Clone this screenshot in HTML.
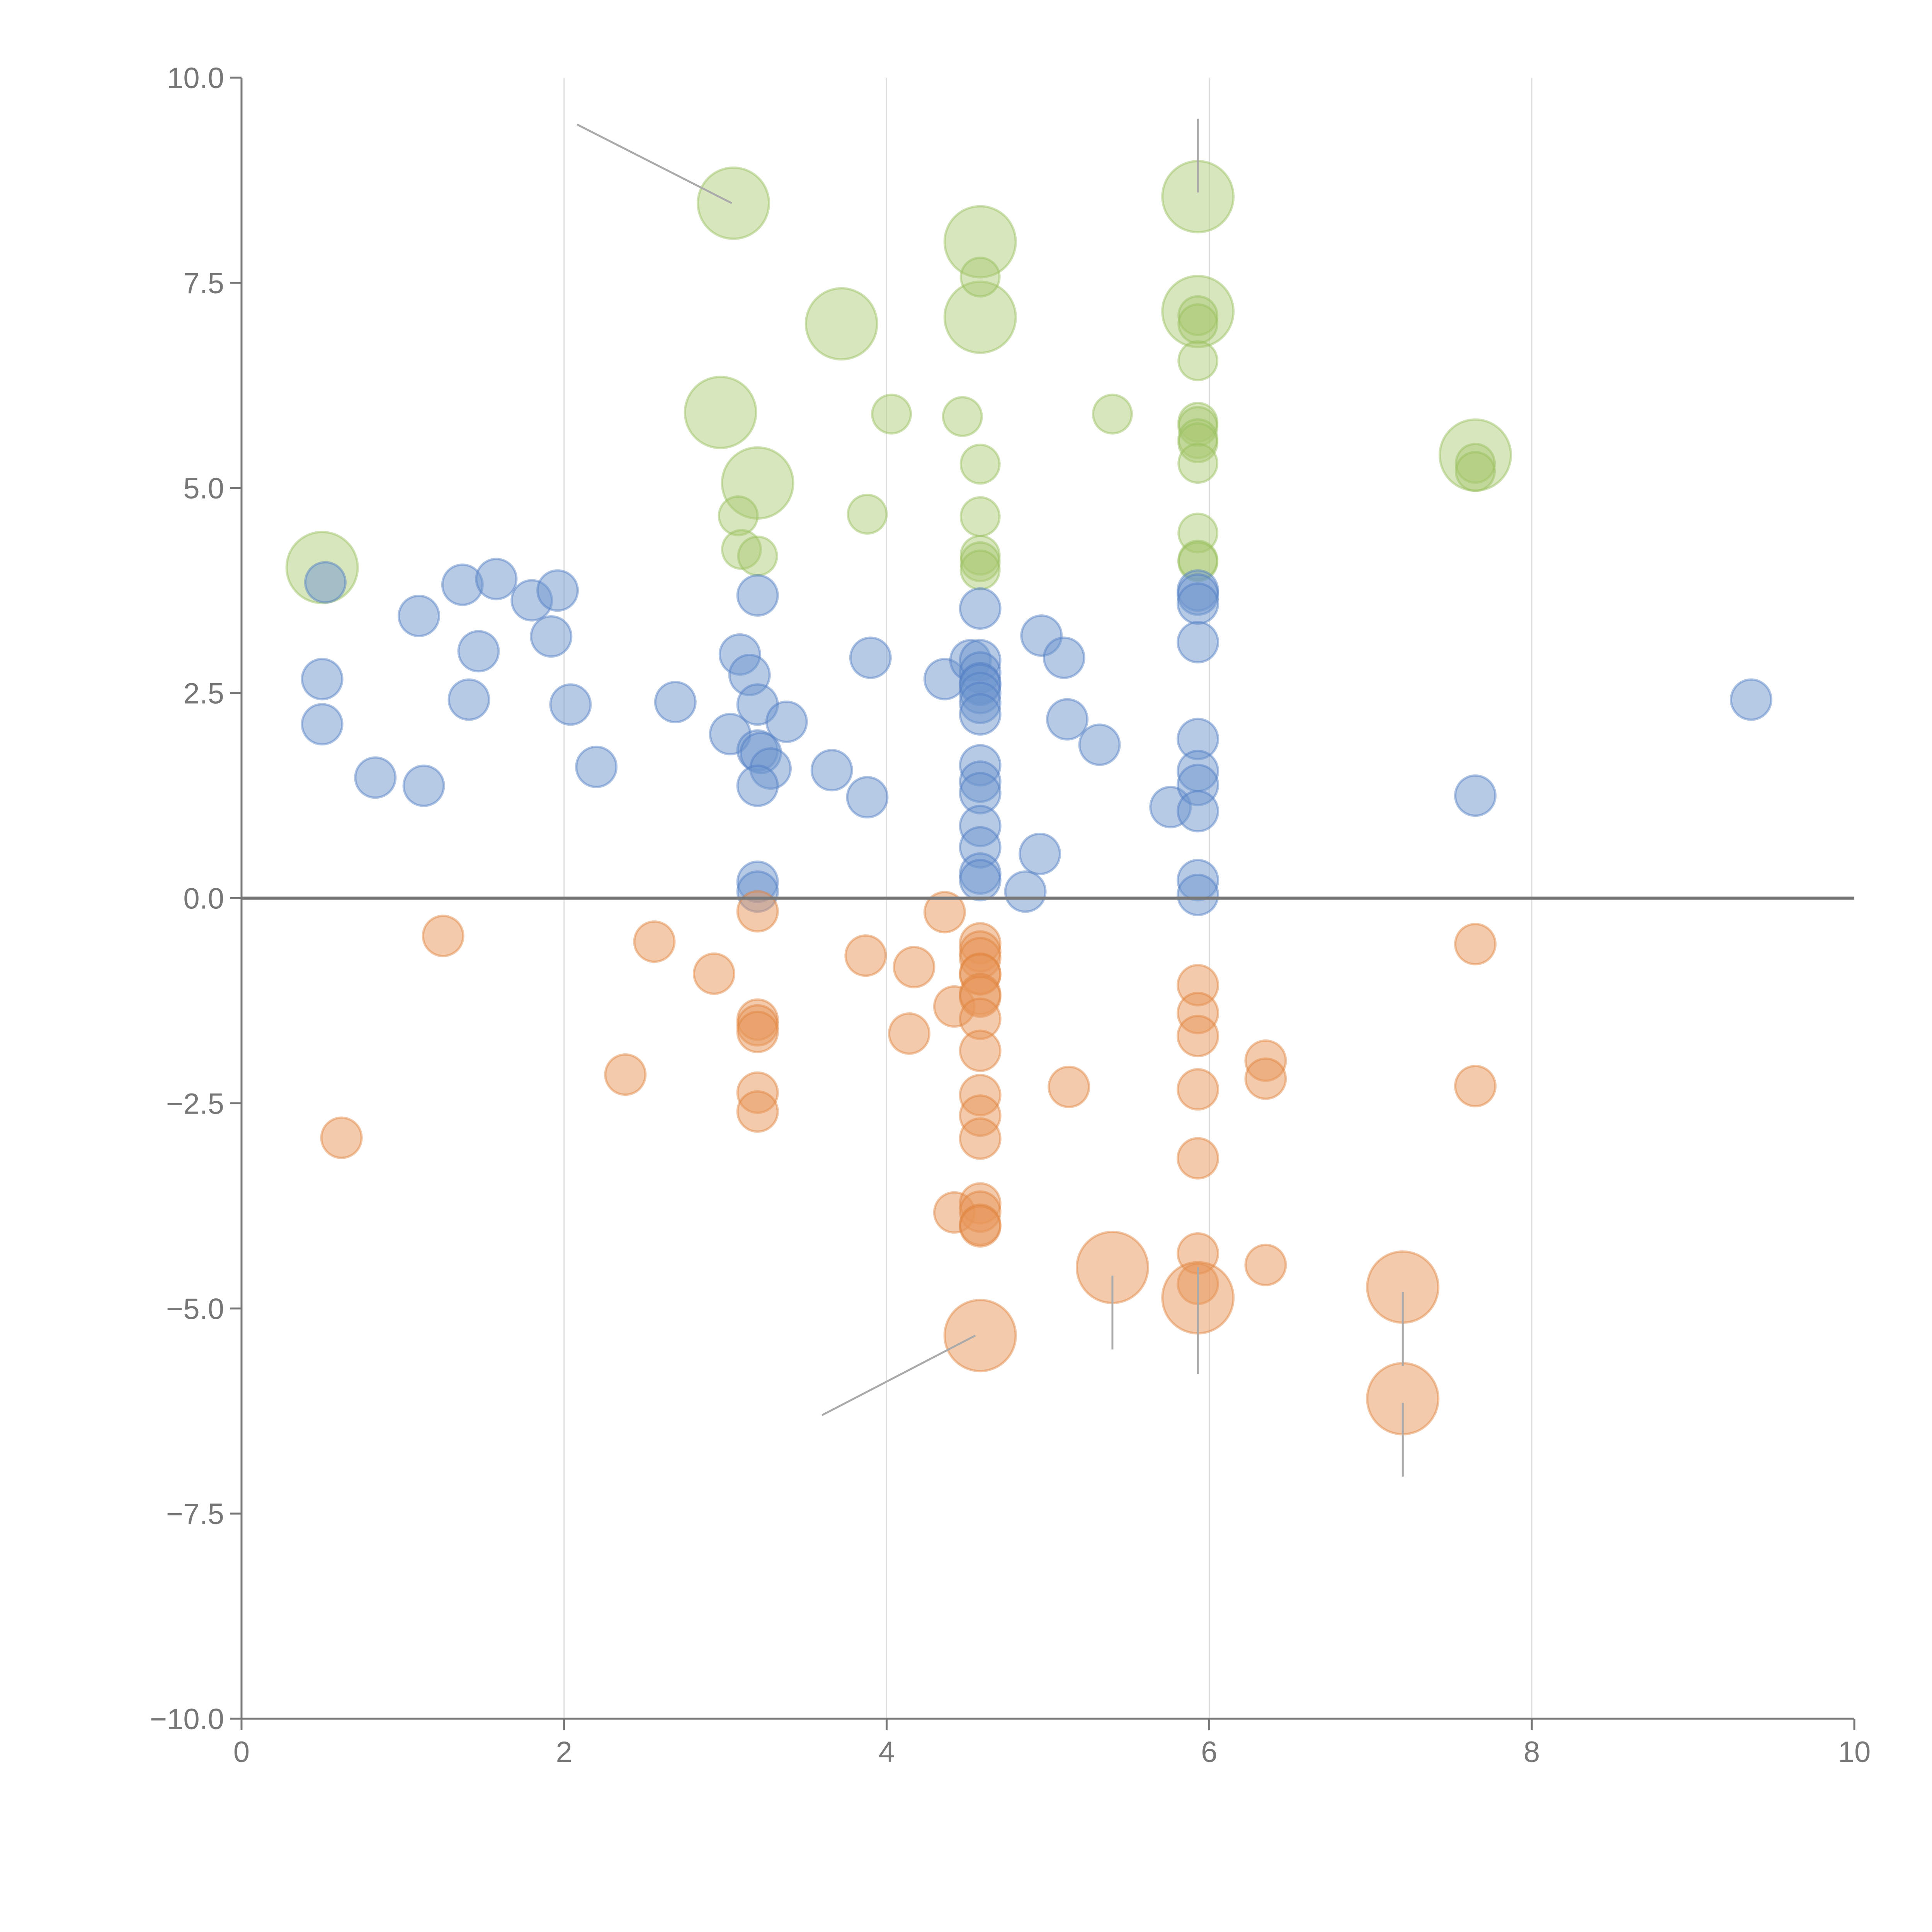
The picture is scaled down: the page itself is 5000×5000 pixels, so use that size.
<!DOCTYPE html>
<html><head><meta charset="utf-8"><style>
html,body{margin:0;padding:0;background:#fff}
svg{display:block}
text{font-family:"Liberation Sans",sans-serif;fill:#777}
</style></head><body>
<svg id="chart" width="5000" height="5000" viewBox="0 0 5000 5000" xmlns="http://www.w3.org/2000/svg">
<g id="grid"></g>
<g id="marks"></g>
<g id="annot"></g>
<g id="axes"></g>
</svg>
<script>
const xTicks=[0,2,4,6,8,10];
const xTickLabels=["0","2","4","6","8","10"];
const yTicks=[10,7.5,5,2.5,0,-2.5,-5,-7.5,-10];
const yTickLabels=["10.0","7.5","5.0","2.5","0.0","\u22122.5","\u22125.0","\u22127.5","\u221210.0"];
const blueX=[0.52,0.5,0.5,0.83,1.1,1.13,1.37,1.41,1.47,1.58,1.8,1.92,1.96,2.04,2.2,2.69,3.03,3.09,3.15,3.2,3.2,3.2,3.22,3.28,3.2,3.2,3.2,3.38,3.66,3.88,3.9,4.36,4.52,4.58,4.58,4.58,4.58,4.58,4.58,4.58,4.58,4.58,4.58,4.58,4.58,4.58,4.58,4.58,4.86,4.95,4.96,5.1,5.12,5.32,5.76,5.93,5.93,5.93,5.93,5.93,5.93,5.93,5.93,5.93,5.93,7.65,9.36];
const blueY=[3.85,2.67,2.12,1.47,3.44,1.37,3.82,2.42,3.01,3.89,3.63,3.19,3.75,2.36,1.6,2.39,2.0,2.97,2.72,3.69,2.36,1.8,1.77,1.58,1.37,0.2,0.08,2.15,1.56,1.23,2.93,2.67,2.9,3.53,2.9,2.75,2.62,2.6,2.5,2.38,2.24,1.62,1.42,1.28,0.88,0.62,0.3,0.22,0.08,0.54,3.2,2.93,2.18,1.87,1.11,3.75,3.7,3.59,3.12,1.94,1.55,1.38,1.06,0.22,0.04,1.25,2.42];
const greenBigX=[0.5,3.05,2.97,3.2,3.72,4.58,4.58,5.93,5.93,7.65];
const greenBigY=[4.03,8.47,5.92,5.06,7.0,8.0,7.08,8.55,7.15,5.4];
const greenX=[3.08,3.1,3.2,3.88,4.03,4.47,4.58,4.58,4.58,4.58,4.58,4.58,5.4,5.93,5.93,5.93,5.93,5.93,5.93,5.93,5.93,5.93,5.93,5.93,7.65,7.65];
const greenY=[4.66,4.25,4.17,4.68,5.9,5.87,7.57,5.29,4.65,4.18,4.1,4.0,5.9,7.1,7.0,6.55,5.8,5.75,5.6,5.55,5.3,4.45,4.12,4.1,5.3,5.2];
const orangeX=[0.62,1.25,2.38,2.56,2.93,3.2,3.2,3.2,3.2,3.2,3.2,3.87,4.14,4.17,4.36,4.42,4.42,4.58,4.58,4.58,4.58,4.58,4.58,4.58,4.58,4.58,4.58,4.58,4.58,4.58,4.58,4.58,4.58,5.13,5.93,5.93,5.93,5.93,5.93,5.93,5.93,6.35,6.35,6.35,7.65,7.65];
const orangeY=[-2.92,-0.46,-2.15,-0.53,-0.92,-0.16,-1.48,-1.55,-1.63,-2.37,-2.6,-0.7,-1.65,-0.84,-0.17,-1.32,-3.83,-0.55,-0.65,-0.73,-0.92,-0.93,-1.17,-1.2,-1.47,-1.86,-2.4,-2.65,-2.93,-3.72,-3.82,-3.98,-4.0,-2.3,-1.06,-1.4,-1.68,-2.33,-3.17,-4.33,-4.7,-1.98,-2.2,-4.47,-0.56,-2.29];
const orangeBigX=[4.58,5.4,5.93,7.2,7.2];
const orangeBigY=[-5.33,-4.5,-4.87,-4.74,-6.1];
const annotX1=[2.08,5.93,3.6,5.4,5.93,7.2,7.2];
const annotY1=[9.43,9.5,-6.3,-4.6,-4.5,-4.8,-6.15];
const annotX2=[3.04,5.93,4.55,5.4,5.93,7.2,7.2];
const annotY2=[8.47,8.6,-5.33,-5.5,-5.8,-5.7,-7.05];

const X0=625,X1=4799,Y0=201,Y1=4448;
function sx(v){return X0+(v-0)/(10-0)*(X1-X0);}
function sy(v){return Y0+(10-v)/20*(Y1-Y0);}
const NS="http://www.w3.org/2000/svg";
function mk(tag,parent,attrs){const e=document.createElementNS(NS,tag);for(const k in attrs)e.setAttribute(k,attrs[k]);parent.appendChild(e);return e;}
const grid=document.getElementById('grid'),marks=document.getElementById('marks'),annot=document.getElementById('annot'),axes=document.getElementById('axes');

xTicks.forEach(t=>{if(t>0&&t<10){const l=mk('line',grid,{x1:sx(t),x2:sx(t),y1:Y0,y2:Y1,stroke:'#ddd','stroke-width':3});

}});

function bubbles(xs,ys,r,fill,stroke,name){
  xs.forEach((x,i)=>{const c=mk('circle',marks,{cx:sx(x),cy:sy(ys[i]),r:r,fill:fill,stroke:stroke,'stroke-width':6});
  
  });
}
bubbles(greenBigX,greenBigY,92,'rgba(168,200,110,0.45)','rgba(150,190,90,0.45)','green-bubble-large');
bubbles(greenX,greenY,50,'rgba(168,200,110,0.45)','rgba(150,190,90,0.45)','green-bubble');
bubbles(blueX,blueY,52,'rgba(110,150,205,0.5)','rgba(80,125,195,0.45)','blue-bubble');
bubbles(orangeX,orangeY,52,'rgba(232,150,90,0.5)','rgba(225,130,60,0.45)','orange-bubble');
bubbles(orangeBigX,orangeBigY,92,'rgba(232,150,90,0.5)','rgba(225,130,60,0.45)','orange-bubble-large');

annotX1.forEach((x,i)=>{const l=mk('line',annot,{x1:sx(x),y1:sy(annotY1[i]),x2:sx(annotX2[i]),y2:sy(annotY2[i]),stroke:'#aaa','stroke-width':5});

});

const z=mk('line',axes,{x1:X0,x2:X1,y1:sy(0),y2:sy(0),stroke:'#777','stroke-width':8});


const ya=mk('line',axes,{x1:X0,x2:X0,y1:Y0,y2:Y1,stroke:'#777','stroke-width':5});


const xa=mk('line',axes,{x1:X0,x2:X1,y1:Y1,y2:Y1,stroke:'#777','stroke-width':5});


yTicks.forEach((t,i)=>{
  const tk=mk('line',axes,{x1:X0-30,x2:X0,y1:sy(t),y2:sy(t),stroke:'#777','stroke-width':5});
  
  
  const tx=mk('text',axes,{x:X0-45,y:sy(t)+27,'text-anchor':'end','font-size':76});
  tx.textContent=yTickLabels[i];
  
  
});
xTicks.forEach((t,i)=>{
  const tk=mk('line',axes,{x1:sx(t),x2:sx(t),y1:Y1,y2:Y1+30,stroke:'#777','stroke-width':5});
  
  
  const tx=mk('text',axes,{x:sx(t),y:Y1+112,'text-anchor':'middle','font-size':76});
  tx.textContent=xTickLabels[i];
  
  
});
</script>
</body></html>
